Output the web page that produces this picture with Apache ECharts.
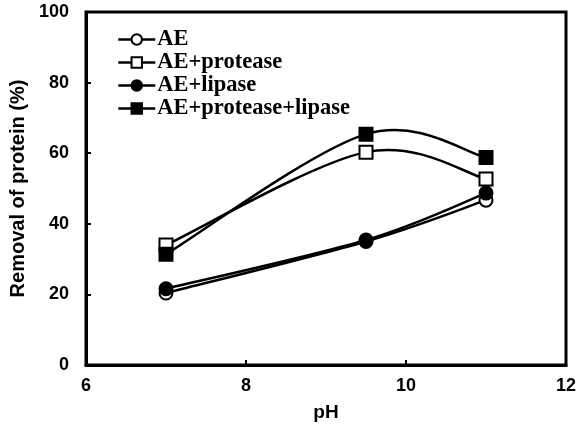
<!DOCTYPE html>
<html>
<head>
<meta charset="utf-8">
<script src="https://cdn.jsdelivr.net/npm/echarts@6/dist/echarts.min.js"></script>
<style>
  body { margin: 0; background: #fff; }
  #chart { width: 583px; height: 432px; }
</style>
</head>
<body>
<div id="chart"></div>
<script>
// pH values measured
var phList = [7, 9.5, 11];
// removal of protein (%)
var aeList = [20.4, 35.0, 46.7];
var aeProteaseList = [34.0, 60.3, 52.7];
var aeLipaseList = [21.6, 35.4, 48.7];
var aeProteaseLipaseList = [31.4, 65.4, 58.8];
var seriesNames = ['AE', 'AE+protease', 'AE+lipase', 'AE+protease+lipase'];

function toPoints(list) {
    return phList.map(function (x, i) { return [x, list[i]]; });
}

// smoothed curve like the spreadsheet one, drawn in pixel space from api.coord
function curveSeries(list) {
    return {
        type: 'custom',
        data: toPoints(list),
        z: 1,
        silent: true,
        renderItem: function (params, api) {
            if (params.dataIndex !== 0) return null;
            var p = toPoints(list).map(function (d) { return api.coord(d); });
            var n = p.length;
            var t = 1 / 6;
            var path = 'M' + p[0][0] + ' ' + p[0][1];
            for (var i = 0; i < n - 1; i++) {
                var a = p[Math.max(i - 1, 0)], b = p[i], c = p[i + 1], d = p[Math.min(i + 2, n - 1)];
                var c1x = b[0] + (c[0] - a[0]) * t, c1y = b[1] + (c[1] - a[1]) * t;
                var c2x = c[0] - (d[0] - b[0]) * t, c2y = c[1] - (d[1] - b[1]) * t;
                path += ' C' + c1x + ' ' + c1y + ' ' + c2x + ' ' + c2y + ' ' + c[0] + ' ' + c[1];
            }
            return {
                type: 'path',
                shape: { pathData: path },
                style: { fill: 'none', stroke: '#000', lineWidth: 2.5 }
            };
        }
    };
}

function markerSeries(name, list, symbol, filled) {
    return {
        name: name,
        type: 'line',
        data: toPoints(list),
        symbol: symbol,
        symbolSize: 13,
        z: 3,
        lineStyle: { opacity: 0 },
        itemStyle: { color: filled ? '#000' : '#fff', borderColor: '#000', borderWidth: 2 }
    };
}

var chart = echarts.init(document.getElementById('chart'));
chart.setOption({
    animation: false,
    backgroundColor: '#fff',
    grid: { left: 86, right: 17, top: 12, bottom: 67, show: true, borderColor: '#000', borderWidth: 3 },
    legend: {
        orient: 'vertical',
        left: 112,
        top: 23,
        itemGap: 0,
        itemWidth: 37,
        itemHeight: 13,
        data: seriesNames,
        lineStyle: { color: '#000', width: 2.5, opacity: 1 },
        textStyle: { fontFamily: 'Liberation Serif', fontWeight: 'bold', fontSize: 22.5, lineHeight: 23, color: '#000', padding: [0, 0, 0, -3] }
    },
    xAxis: {
        type: 'value',
        min: 6,
        max: 12,
        interval: 2,
        name: 'pH',
        nameLocation: 'middle',
        nameGap: 38,
        nameTextStyle: { fontFamily: 'Liberation Sans', fontWeight: 'bold', fontSize: 19, color: '#000' },
        axisLine: { lineStyle: { color: '#000', width: 3 } },
        axisTick: { inside: true, length: 5, lineStyle: { color: '#000', width: 2 } },
        axisLabel: { fontFamily: 'Liberation Sans', fontWeight: 'bold', fontSize: 18, color: '#000', margin: 12 },
        splitLine: { show: false }
    },
    yAxis: {
        type: 'value',
        min: 0,
        max: 100,
        interval: 20,
        name: 'Removal of protein (%)',
        nameLocation: 'middle',
        nameGap: 54,
        nameTextStyle: { fontFamily: 'Liberation Sans', fontWeight: 'bold', fontSize: 20, color: '#000' },
        axisLine: { lineStyle: { color: '#000', width: 3 } },
        axisTick: { inside: true, length: 5, lineStyle: { color: '#000', width: 2 } },
        axisLabel: { fontFamily: 'Liberation Sans', fontWeight: 'bold', fontSize: 18, color: '#000', margin: 17 },
        splitLine: { show: false }
    },
    series: [
        curveSeries(aeList),
        curveSeries(aeProteaseList),
        curveSeries(aeLipaseList),
        curveSeries(aeProteaseLipaseList),
        markerSeries(seriesNames[0], aeList, 'circle', false),
        markerSeries(seriesNames[1], aeProteaseList, 'rect', false),
        markerSeries(seriesNames[2], aeLipaseList, 'circle', true),
        markerSeries(seriesNames[3], aeProteaseLipaseList, 'rect', true)
    ]
});
</script>
</body>
</html>
